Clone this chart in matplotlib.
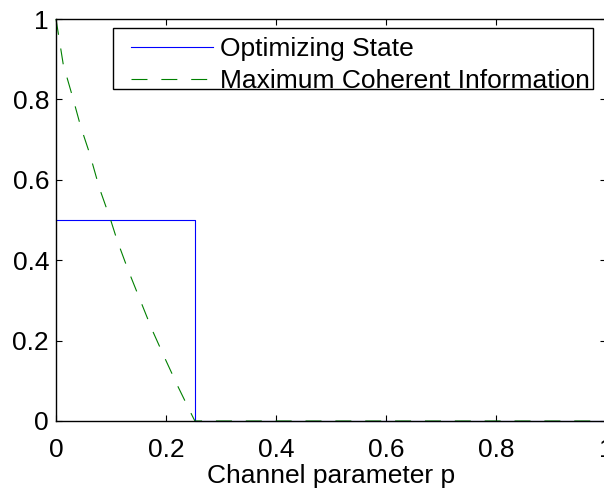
import matplotlib
matplotlib.use("Agg")
import matplotlib.pyplot as plt
from matplotlib.lines import Line2D
from matplotlib.patches import Rectangle
from matplotlib.legend_handler import HandlerLine2D

# Data
p_state = [0.0, 0.2525, 0.2525, 1.0]
optimizing_state = [0.5, 0.5, 0.0, 0.0]

p_info = [0.0, 0.0133, 0.030, 0.045, 0.061, 0.079, 0.0994, 0.111, 0.131,
          0.153, 0.175, 0.198, 0.222, 0.247, 0.2525, 1.0]
max_coherent_info = [1.0, 0.886, 0.807, 0.732, 0.666, 0.579, 0.500, 0.450, 0.376,
                     0.301, 0.226, 0.156, 0.085, 0.015, 0.0, 0.0]

ticks = [0, 0.2, 0.4, 0.6, 0.8, 1]
tick_labels = ["0", "0.2", "0.4", "0.6", "0.8", "1"]

plt.rcParams['font.family'] = ['Liberation Sans', 'DejaVu Sans']
plt.rcParams['lines.scale_dashes'] = False

FS = 19
W, H = 604, 488
fig = plt.figure(figsize=(W / 100, H / 100), dpi=100)
left, top, bottom, right = 56, 19, 421, 606
aw, ah = right - left, bottom - top
ax = fig.add_axes([left / W, 1 - bottom / H, aw / W, ah / H])

ax.plot(p_state, optimizing_state, color=(0, 0, 1), lw=0.8, label="Optimizing State",
        clip_on=False)
ax.plot(p_info, max_coherent_info, color=(0, 0.5, 0), lw=0.8, dashes=(11.5, 10),
        label="Maximum Coherent Information", clip_on=False)

ax.set_xlim(0, 1)
ax.set_ylim(0, 1)
ax.set_xticks(ticks)
ax.set_xticklabels(tick_labels)
ax.set_yticks(ticks)
ax.set_yticklabels(tick_labels)
ax.tick_params(direction='in', length=4, width=0.8, labelsize=FS,
               top=True, right=True, pad=5)
ax.tick_params(axis='x', pad=12)
for s in ax.spines.values():
    s.set_linewidth(1.0)

ax.set_xlabel("Channel parameter p", fontsize=FS, labelpad=2)

# legend box (MATLAB-style, text sits low in the box)
bx0, bx1, by0, by1 = 113, 593, 27.7, 89
ax.add_patch(Rectangle(((bx0 - left) / aw, (bottom - by1) / ah),
                       (bx1 - bx0) / aw, (by1 - by0) / ah,
                       transform=ax.transAxes, facecolor='white', edgecolor='black',
                       lw=1.0, zorder=4.5, clip_on=False))

leg = ax.legend(loc='upper right',
                bbox_to_anchor=((593 - left) / aw, (bottom - 34.4) / ah),
                fontsize=FS, frameon=False, handlelength=3.58,
                borderpad=0.1, handletextpad=0.27, labelspacing=0.30,
                borderaxespad=0,
                handler_map={Line2D: HandlerLine2D(xpad=0.47)})
leg.set_zorder(6)

fig.savefig("out.png", dpi=100)
